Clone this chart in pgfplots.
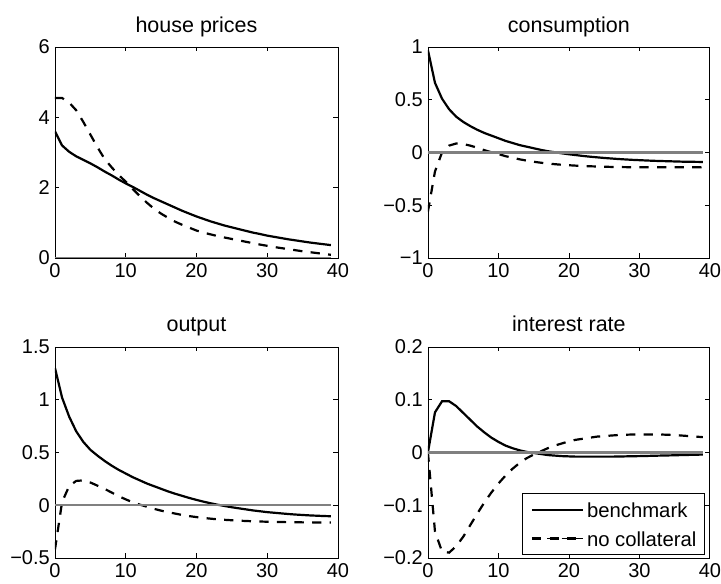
\documentclass[border=0pt]{standalone}
\usepackage{pgfplots}
\usepackage{pgfplotstable}
\pgfplotsset{compat=1.18}
\usepackage{fontspec}
\setmainfont{Liberation Sans}

\pgfplotstableread{
t hpb hpn cb cn yb yn rb rn
0 3.60 4.55 0.97 -0.56 1.30 -0.42 0.000 0.000
1 3.20 4.55 0.66 -0.18 1.02 0.03 0.076 -0.150
2 3.02 4.42 0.51 0.000 0.84 0.18 0.097 -0.188
3 2.89 4.20 0.41 0.065 0.70 0.23 0.097 -0.190
4 2.79 3.87 0.34 0.085 0.60 0.235 0.088 -0.178
5 2.69 3.51 0.29 0.080 0.525 0.215 0.075 -0.160
6 2.58 3.15 0.25 0.065 0.47 0.185 0.062 -0.138
7 2.46 2.82 0.215 0.045 0.42 0.155 0.049 -0.116
8 2.35 2.58 0.185 0.022 0.375 0.120 0.038 -0.095
9 2.23 2.36 0.160 0.002 0.335 0.085 0.028 -0.076
10 2.12 2.17 0.135 -0.015 0.300 0.055 0.020 -0.059
11 2.02 1.96 0.110 -0.035 0.265 0.027 0.013 -0.044
12 1.91 1.76 0.090 -0.050 0.235 0.005 0.008 -0.031
13 1.80 1.57 0.070 -0.065 0.205 -0.015 0.004 -0.020
14 1.70 1.40 0.055 -0.077 0.180 -0.035 0.001 -0.011
15 1.61 1.26 0.040 -0.088 0.155 -0.052 -0.001 -0.004
16 1.52 1.14 0.025 -0.097 0.130 -0.067 -0.003 0.002
17 1.43 1.03 0.012 -0.105 0.108 -0.080 -0.005 0.008
18 1.34 0.94 0.002 -0.111 0.088 -0.093 -0.006 0.013
19 1.26 0.86 -0.008 -0.117 0.068 -0.104 -0.007 0.017
20 1.18 0.78 -0.017 -0.121 0.050 -0.113 -0.0075 0.021
21 1.11 0.72 -0.025 -0.125 0.033 -0.121 -0.008 0.024
22 1.04 0.67 -0.033 -0.128 0.018 -0.128 -0.008 0.026
23 0.98 0.62 -0.040 -0.131 0.004 -0.134 -0.008 0.028
24 0.92 0.58 -0.046 -0.133 -0.008 -0.139 -0.008 0.030
25 0.87 0.54 -0.052 -0.135 -0.020 -0.143 -0.008 0.031
26 0.82 0.50 -0.057 -0.137 -0.030 -0.147 -0.008 0.032
27 0.77 0.46 -0.062 -0.138 -0.040 -0.150 -0.0078 0.033
28 0.72 0.42 -0.066 -0.139 -0.050 -0.153 -0.0075 0.0335
29 0.68 0.38 -0.070 -0.140 -0.058 -0.155 -0.0072 0.034
30 0.635 0.345 -0.073 -0.141 -0.066 -0.157 -0.007 0.034
31 0.60 0.31 -0.076 -0.141 -0.072 -0.159 -0.0067 0.034
32 0.565 0.28 -0.079 -0.141 -0.078 -0.160 -0.0063 0.034
33 0.53 0.25 -0.081 -0.141 -0.084 -0.161 -0.006 0.034
34 0.50 0.22 -0.083 -0.141 -0.089 -0.162 -0.0057 0.0335
35 0.47 0.19 -0.085 -0.141 -0.093 -0.163 -0.0054 0.033
36 0.44 0.165 -0.087 -0.141 -0.097 -0.163 -0.005 0.032
37 0.415 0.14 -0.088 -0.141 -0.100 -0.164 -0.0047 0.031
38 0.39 0.115 -0.089 -0.141 -0.103 -0.164 -0.0044 0.030
39 0.365 0.09 -0.090 -0.140 -0.105 -0.164 -0.004 0.029
}\irf

\newcommand{\fs}{\fontsize{20bp}{24bp}\selectfont}
\newcommand{\fst}{\fontsize{21.5bp}{26bp}\selectfont}

\pgfplotsset{
  panel/.style={
    scale only axis, width=283bp, height=211bp,
    anchor=south west,
    xmin=0, xmax=40,
    xtick={0,10,20,30,40},
    xticklabels={0,10,20,30,40},
    tick align=inside,
    major tick length=4.5bp,
    every tick/.style={black, line width=0.8bp},
    axis line style={line width=0.8bp},
    tick label style={font=\fs},
    yticklabel style={anchor=east, inner sep=0pt, xshift=-5bp},
    xticklabel style={anchor=north, inner sep=0pt, yshift=-5bp},
    title style={font=\fst, at={(0.5,1)}, anchor=base, yshift=9bp, inner sep=0pt},
  },
  bench/.style={black, line width=2.2bp},
  nocol/.style={black, line width=2.2bp, dash pattern=on 9.3bp off 8.3bp},
  zline/.style={gray, line width=2.2bp, forget plot},
  solidleg/.style={legend image code/.code={\path (0bp,0bp) -- (51bp,0bp); \draw[black, line width=1.6bp] (1bp,0bp) -- (46bp,0bp);}},
  dashleg/.style={legend image code/.code={\path (0bp,0bp) -- (51bp,0bp); \draw[black, line width=1.6bp, dash pattern=on 8bp off 6.3bp] (1bp,0bp) -- (51bp,0bp);}},
}

\begin{document}
\begin{tikzpicture}
\path (0bp,0bp) rectangle (721bp,584bp);

\begin{axis}[panel, at={(55bp,326bp)}, title={house prices},
  ymin=0, ymax=6, ytick={0,2,4,6}, yticklabels={0,2,4,6}]
\addplot[bench] table[x=t, y=hpb] {\irf};
\addplot[nocol] table[x=t, y=hpn] {\irf};
\addplot[zline] coordinates {(0,0) (39,0)};
\end{axis}

\begin{axis}[panel, at={(428bp,326bp)}, width=282bp, title={consumption},
  ymin=-1, ymax=1, ytick={-1,-0.5,0,0.5,1}, yticklabels={−1,−0.5,0,0.5,1}]
\addplot[bench] table[x=t, y=cb] {\irf};
\addplot[nocol] table[x=t, y=cn] {\irf};
\addplot[zline] coordinates {(0,0) (39,0)};
\end{axis}

\begin{axis}[panel, at={(55bp,26bp)}, title={output},
  ymin=-0.5, ymax=1.5, ytick={-0.5,0,0.5,1,1.5}, yticklabels={−0.5,0,0.5,1,1.5}]
\addplot[bench] table[x=t, y=yb] {\irf};
\addplot[nocol] table[x=t, y=yn] {\irf};
\addplot[zline] coordinates {(0,0) (39,0)};
\end{axis}

\begin{axis}[panel, at={(428bp,26bp)}, width=282bp, title={interest rate},
  ymin=-0.2, ymax=0.2, ytick={-0.2,-0.1,0,0.1,0.2}, yticklabels={−0.2,−0.1,0,0.1,0.2},
  legend cell align=left,
  legend style={at={(1,0)}, anchor=south east, xshift=-5bp, yshift=3bp,
    draw=black, line width=0.8bp, font=\fontsize{20.3bp}{24bp}\selectfont, inner xsep=8bp, inner ysep=8.5bp,
    column sep=3bp, row sep=13.7bp,
    nodes={inner sep=0pt, text height=15bp, text depth=0bp}}]
\addplot[bench, solidleg] table[x=t, y=rb] {\irf};
\addlegendentry{benchmark}
\addplot[nocol, dashleg] table[x=t, y=rn] {\irf};
\addlegendentry{no collateral}
\addplot[zline] coordinates {(0,0) (39,0)};
\end{axis}
\end{tikzpicture}
\end{document}
